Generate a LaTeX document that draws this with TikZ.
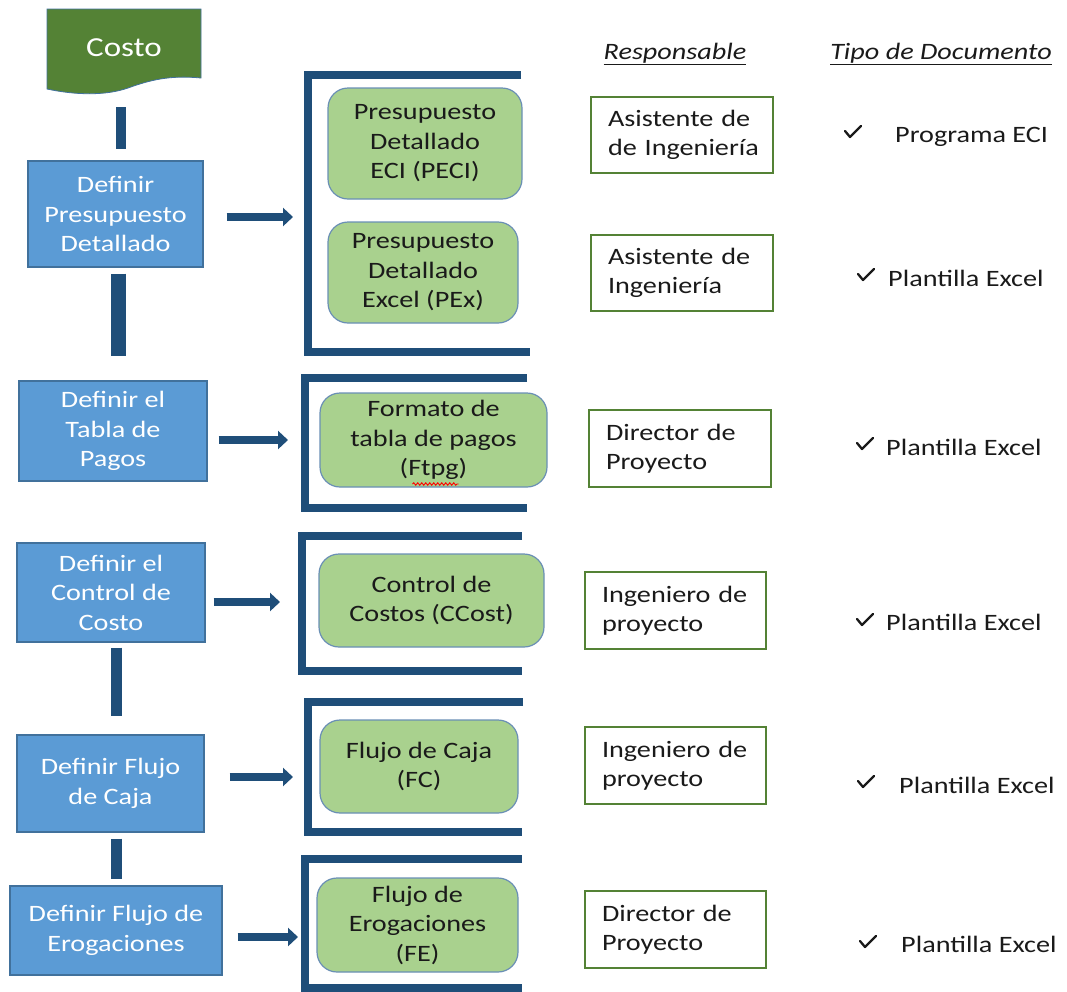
\documentclass[tikz,border=0pt]{standalone}
\usepackage{fontspec}
\setmainfont{Carlito}[FakeStretch=1.2]
\usetikzlibrary{arrows.meta,calc,decorations.pathmorphing}

\definecolor{navy}{HTML}{1F4E79}
\definecolor{boxblue}{HTML}{5B9BD5}
\definecolor{boxedge}{HTML}{41719C}
\definecolor{leaf}{HTML}{A9D18E}
\definecolor{leafedge}{HTML}{6A8FB5}
\definecolor{olive}{HTML}{548235}
\definecolor{ink}{HTML}{1A1A1A}

\tikzset{
  txt/.style={font=\fontsize{23.5}{29.5}\selectfont, inner sep=0pt},
  task/.style={txt, rectangle, fill=boxblue, draw=boxedge, line width=1.3pt,
               text=white, align=center},
  doc/.style={txt, rectangle, rounded corners=20pt, fill=leaf, draw=leafedge,
              line width=1.2pt, text=ink, align=center},
  owner/.style={txt, rectangle, fill=white, draw=olive, line width=1.5pt,
                text=ink, align=left, inner xsep=17pt,
                execute at begin node={\hfuzz=40pt}},
  bar/.style={navy, line width=#1},
  bar/.default=11pt,
  bracket/.style={navy, line width=8.5pt, line join=miter},
  push/.style={navy, line width=8pt,
               -{Triangle[width=18pt,length=10pt]}},
  kind/.style={txt, text=ink, anchor=west},
  head/.style={txt, text=ink},
  pics/checkmark/.style={code={
    \draw[ink, line width=2.3pt, line cap=round, line join=round]
      (-8,-1) -- (-3,5) -- (8,-6);
  }}
}

\begin{document}
\begin{tikzpicture}[x=1pt,y=-1pt]
\useasboundingbox (0,0) rectangle (1067,991);

% start terminal (document shape)
\fill[olive, draw=boxedge, line width=0.8pt]
  (47,9) -- (201,9) -- (201,78)
  .. controls (170,75) and (150,80) .. (128,88)
  .. controls (105,96) and (75,95) .. (47,89) -- cycle;
\node[txt, font=\fontsize{27.5}{30}\selectfont, text=white,
      minimum width=154pt, minimum height=84pt] (costo) at (124,51)
  {\raisebox{7pt}{Costo}};

% process steps
\node[task, minimum width=175pt, minimum height=106pt] (b1) at (115.5,214)
  {Definir\\Presupuesto\\Detallado};
\node[task, minimum width=188pt, minimum height=100pt] (b2) at (113,431)
  {Definir el\\Tabla de\\Pagos};
\node[task, minimum width=188pt, minimum height=99pt] (b3) at (111,592.5)
  {Definir el\\Control de\\Costo};
\node[task, minimum width=187pt, minimum height=97pt] (b4) at (110.5,783.5)
  {\raisebox{5pt}{\begin{tabular}{@{}c@{}}Definir Flujo\\de Caja\end{tabular}}};
\node[task, minimum width=212pt, minimum height=89pt] (b5) at (116,930.5)
  {Definir Flujo de\\Erogaciones};

% vertical links between steps
\draw[bar=10pt] ([xshift=-3pt,yshift=-14pt]costo.south) -- ([xshift=5.5pt,yshift=11pt]b1.north);
\draw[bar=15pt] ([xshift=3pt,yshift=-6pt]b1.south) -- ([xshift=5.5pt,yshift=24pt]b2.north);
\draw[bar=11pt] ([xshift=5.5pt,yshift=-5pt]b3.south) -- ([xshift=6pt,yshift=18pt]b4.north);
\draw[bar=11pt] ([xshift=6pt,yshift=-6pt]b4.south) -- ([xshift=0.5pt,yshift=6pt]b5.north);

% brackets
\draw[bracket] (521,75) -- (308,75) -- (308,352) -- (530,352);
\draw[bracket] (527,378) -- (305,378) -- (305,508) -- (527,508);
\draw[bracket] (522,536) -- (302,536) -- (302,671) -- (522,671);
\draw[bracket] (523,702) -- (308,702) -- (308,832) -- (522,832);
\draw[bracket] (522,859) -- (305,859) -- (305,988) -- (522,988);
\coordinate (k1) at (308,217);
\coordinate (k2) at (305,440);
\coordinate (k3) at (302,602);
\coordinate (k4) at (308,777);
\coordinate (k5) at (305,937);

% arrows into the brackets
\draw[push] ([xshift=23pt,yshift=-3pt]b1.east) -- ([xshift=-15pt]k1);
\draw[push] ([xshift=11pt,yshift=-9pt]b2.east) -- ([xshift=-17pt]k2);
\draw[push] ([xshift=8pt,yshift=-9.5pt]b3.east) -- ([xshift=-22pt]k3);
\draw[push] ([xshift=25pt,yshift=6.5pt]b4.east) -- ([xshift=-15pt]k4);
\draw[push] ([xshift=15pt,yshift=-6.5pt]b5.east) -- ([xshift=-7pt]k5);

% deliverables
\node[doc, minimum width=194pt, minimum height=111pt] (g1) at (425,143.5)
  {Presupuesto\\Detallado\\ECI (PECI)};
\node[doc, minimum width=190pt, minimum height=101pt] (g2) at (423,272.5)
  {Presupuesto\\Detallado\\Excel (PEx)};
\node[doc, minimum width=227pt, minimum height=94pt] (g3) at (433.5,440)
  {Formato de\\tabla de pagos\\(Ftpg)};
\node[doc, minimum width=225pt, minimum height=93pt] (g4) at (431.5,600.5)
  {Control de\\Costos (CCost)};
\node[doc, minimum width=198pt, minimum height=93pt] (g5) at (419,766.5)
  {Flujo de Caja\\(FC)};
\node[doc, minimum width=201pt, minimum height=94pt] (g6) at (417.5,925)
  {Flujo de\\Erogaciones\\(FE)};
\draw[red, line width=0.9pt, decorate,
      decoration={snake, amplitude=1.2pt, segment length=4pt}]
  ($(g3.center)+(-21,44)$) -- ($(g3.center)+(25,44)$);

% column headings
\node[head] (hresp) at (675,54) {\underline{\textit{Responsable}}};
\node[head] (htipo) at (941,54) {\underline{\textit{Tipo de Documento}}};

% owners
\node[owner, text width=148pt, minimum height=76pt] (w1) at (682,135)
  {\mbox{Asistente de}\\\mbox{de Ingeniería}};
\node[owner, text width=148pt, minimum height=76pt] (w2) at (682,273)
  {\mbox{Asistente de}\\\mbox{Ingeniería}};
\node[owner, text width=148pt, minimum height=77pt] (w3) at (680,448.5)
  {\mbox{Director de}\\\mbox{Proyecto}};
\node[owner, text width=147pt, minimum height=77pt] (w4) at (675.5,610.5)
  {\mbox{Ingeniero de}\\\mbox{proyecto}};
\node[owner, text width=147pt, minimum height=77pt] (w5) at (675.5,765.5)
  {\mbox{Ingeniero de}\\\mbox{proyecto}};
\node[owner, text width=147pt, minimum height=77pt] (w6) at (675.5,929.5)
  {\mbox{Director de}\\\mbox{Proyecto}};

% document types
\pic at (853,132) {checkmark};
\node[kind] (t1) at (895,137) {Programa ECI};
\pic at (866,275) {checkmark};
\node[kind] (t2) at (888,278) {Plantilla Excel};
\pic at (865,444) {checkmark};
\node[kind] (t3) at (886,447) {Plantilla Excel};
\pic at (865,620) {checkmark};
\node[kind] (t4) at (886,622) {Plantilla Excel};
\pic at (866,782) {checkmark};
\node[kind] (t5) at (899,785) {Plantilla Excel};
\pic at (868,942) {checkmark};
\node[kind] (t6) at (901,944) {Plantilla Excel};
\end{tikzpicture}
\end{document}
